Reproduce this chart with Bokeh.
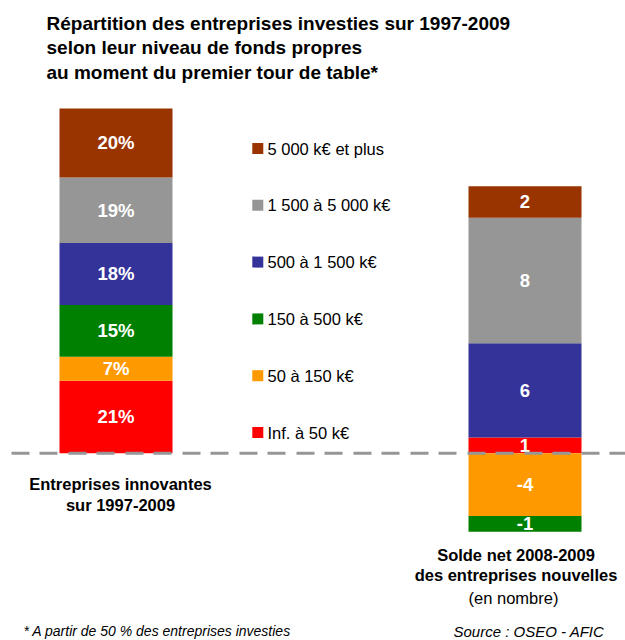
import numpy as np
from bokeh.plotting import figure
from bokeh.models import Range1d, Span, ColumnDataSource
from bokeh.core.properties import value
from bokeh.embed import file_html
from bokeh.resources import INLINE

# ---------------- data ----------------
categories = ["Inf. à 50 k€", "50 à 150 k€", "150 à 500 k€",
              "500 à 1 500 k€", "1 500 à 5 000 k€", "5 000 k€ et plus"]
colors = ["#FF0000", "#FF9900", "#008000", "#333399", "#969696", "#993300"]
share_pct = [21, 7, 15, 18, 19, 20]          # Entreprises innovantes 1997-2009 (%)
net_count = [1, -4, -1, 6, 8, 2]             # Solde net 2008-2009 (nombre)
title_lines = ["Répartition des entreprises investies sur 1997-2009",
               "selon leur niveau de fonds propres",
               "au moment du premier tour de table*"]
left_group = ["Entreprises innovantes", "sur 1997-2009"]
right_group = ["Solde net 2008-2009", "des entreprises nouvelles"]
right_sub = "(en nombre)"
footnote = "* A partir de 50 % des entreprises investies"
source = "Source : OSEO - AFIC"

FONT = value("Liberation Sans")

W, H = 625, 640
p = figure(width=W, height=H, x_range=Range1d(0, 625), y_range=Range1d(-54.34, 131.33),
           x_axis_type=None, y_axis_type=None, output_backend="svg",
           toolbar_location=None, min_border=0)
p.outline_line_color = None
p.background_fill_color = "white"
p.extra_y_ranges = {"count": Range1d(-11.93, 28.83), "px": Range1d(640, 0)}

LEFT_X, RIGHT_X, BAR_W = 115.5, 524.5, 113

# left stacked bar (percent)
lt = np.cumsum(share_pct)
lb = lt - np.array(share_pct)
src_l = ColumnDataSource(dict(x=[LEFT_X] * 6, bottom=lb, top=lt, color=colors,
                              mid=(lb + lt) / 2, lab=["%d%%" % v for v in share_pct]))
p.vbar(x="x", width=BAR_W, bottom="bottom", top="top", fill_color="color",
       line_color=None, source=src_l)
p.text(x="x", y="mid", text="lab", source=src_l, text_color="white",
       text_font=FONT, text_font_style="bold", text_font_size=value("18.5px"),
       text_align="center", text_baseline="middle")

# right stacked bar (counts, positive up / negative down)
rb, rt = [], []
pos, neg = 0, 0
for v in net_count:
    if v >= 0:
        rb.append(pos); rt.append(pos + v); pos += v
    else:
        rt.append(neg); rb.append(neg + v); neg += v
rb, rt = np.array(rb), np.array(rt)
src_r = ColumnDataSource(dict(x=[RIGHT_X] * 6, bottom=rb, top=rt, color=colors,
                              mid=(rb + rt) / 2, lab=[str(v) for v in net_count]))
p.vbar(x="x", width=BAR_W, bottom="bottom", top="top", fill_color="color",
       line_color=None, source=src_r, y_range_name="count")
p.text(x="x", y="mid", text="lab", source=src_r, text_color="white",
       text_font=FONT, text_font_style="bold", text_font_size=value("18.5px"),
       text_align="center", text_baseline="middle", y_range_name="count")

# dashed zero line
p.add_layout(Span(location=0, dimension="width", line_color="#969696", line_width=3,
                  line_dash="18 10 18 11", line_dash_offset=46))

# legend (top item = last category)
leg_y = [432 - i * 56.8 for i in range(len(categories))]
p.scatter(x=[257.3] * 6, y=leg_y, marker="square", size=11, fill_color=colors,
          line_color=None, y_range_name="px")
p.text(x=[267] * 6, y=leg_y, text=categories, text_color="black", text_font=FONT,
       text_font_size=value("16.5px"), text_align="left", text_baseline="middle",
       y_range_name="px")

# title
p.text(x=[46] * 3, y=[22.7, 47.3, 71.9], text=title_lines, text_color="black",
       text_font=FONT, text_font_style="bold", text_font_size=value("19px"),
       text_align="left", text_baseline="alphabetic", y_range_name="px")

# group labels
p.text(x=[120, 120], y=[483.7, 504], text=left_group, text_color="black",
       text_font=FONT, text_font_style="bold", text_font_size=value("16.5px"),
       text_align="center", text_baseline="middle", y_range_name="px")
p.text(x=[515.5, 515.5], y=[554, 574.5], text=right_group, text_color="black",
       text_font=FONT, text_font_style="bold", text_font_size=value("16.5px"),
       text_align="center", text_baseline="middle", y_range_name="px")
p.text(x=[513], y=[597], text=[right_sub], text_color="black",
       text_font=FONT, text_font_size=value("16.5px"),
       text_align="center", text_baseline="middle", y_range_name="px")

# footnotes
p.text(x=[23], y=[630.5], text=[footnote], text_color="black", text_font=FONT,
       text_font_style="italic", text_font_size=value("14px"),
       text_align="left", text_baseline="middle", y_range_name="px")
p.text(x=[453], y=[630.5], text=[source], text_color="black", text_font=FONT,
       text_font_style="italic", text_font_size=value("15px"),
       text_align="left", text_baseline="middle", y_range_name="px")

open("out.html", "w").write(file_html(p, INLINE))
